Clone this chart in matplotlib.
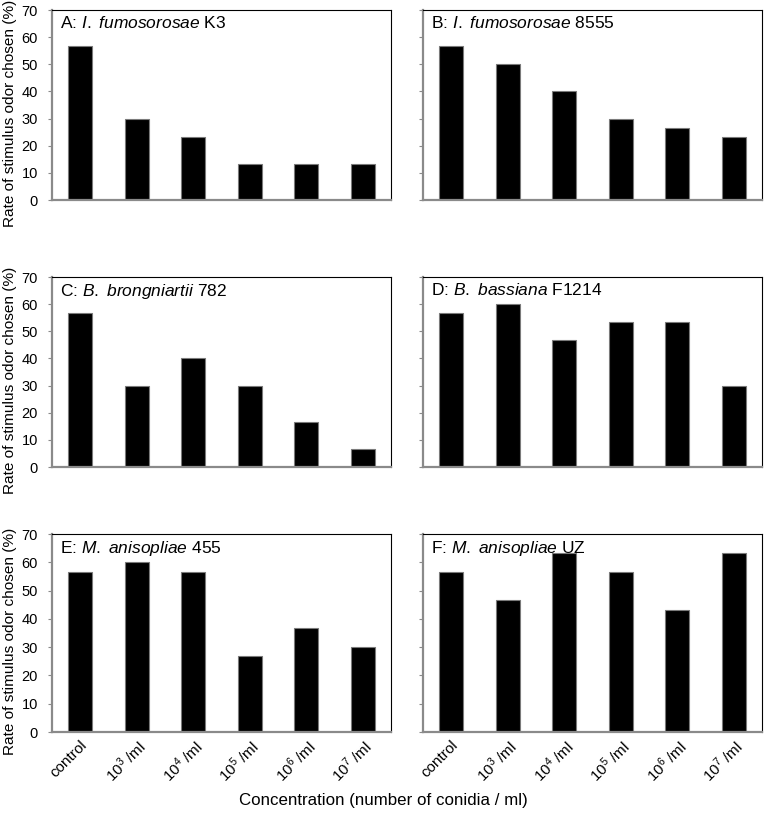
import matplotlib
matplotlib.use("Agg")
import matplotlib.pyplot as plt

plt.rcParams['font.family'] = ['Liberation Sans', 'DejaVu Sans']
plt.rcParams['mathtext.fontset'] = 'custom'
plt.rcParams['mathtext.rm'] = 'Liberation Sans'
plt.rcParams['mathtext.it'] = 'Liberation Sans:italic'

# concentrations (x categories)
categories = ["control", "10$^3$ /ml", "10$^4$ /ml", "10$^5$ /ml", "10$^6$ /ml", "10$^7$ /ml"]

# panel titles: (letter, italic species, strain)
titles = [
    ("A: ", "I. fumosorosae", " K3"),
    ("B: ", "I. fumosorosae", " 8555"),
    ("C: ", "B. brongniartii", " 782"),
    ("D: ", "B. bassiana", " F1214"),
    ("E: ", "M. anisopliae", " 455"),
    ("F: ", "M. anisopliae", " UZ"),
]

# rate of stimulus odor chosen (%)
vals_A = [56.7, 30.0, 23.3, 13.3, 13.3, 13.3]
vals_B = [56.7, 50.0, 40.0, 30.0, 26.7, 23.3]
vals_C = [56.7, 30.0, 40.0, 30.0, 16.7, 6.7]
vals_D = [56.7, 60.0, 46.7, 53.3, 53.3, 30.0]
vals_E = [56.7, 60.0, 56.7, 26.7, 36.7, 30.0]
vals_F = [56.7, 46.7, 63.3, 56.7, 43.3, 63.3]
all_vals = [vals_A, vals_B, vals_C, vals_D, vals_E, vals_F]

W, H = 766, 813
fig = plt.figure(figsize=(W / 100, H / 100), dpi=100)

# axes rectangles in pixels: left, top, right, bottom
rects = [
    (52, 10, 391, 200), (423, 10, 762, 200),
    (52, 277, 391, 467), (423, 277, 762, 467),
    (52, 534, 391, 732), (423, 534, 762, 732),
]

for i, (vals, t, r) in enumerate(zip(all_vals, titles, rects)):
    l, tp, rt, bt = r
    ax = fig.add_axes([l / W, 1 - bt / H, (rt - l) / W, (bt - tp) / H])
    x = range(len(vals))
    ax.bar(x, vals, width=0.42, color="black", edgecolor="#7a7a7a", linewidth=0.8)
    ax.set_xlim(-0.5, 5.5)
    ax.set_ylim(0, 70)
    ax.set_yticks(range(0, 71, 10))
    for s in ("top", "right"):
        ax.spines[s].set_color("black")
        ax.spines[s].set_linewidth(0.8)
    for s in ("left", "bottom"):
        ax.spines[s].set_color("#8a8a8a")
        ax.spines[s].set_linewidth(1.6)
    ax.tick_params(axis="y", direction="out", length=3, color="#8a8a8a",
                   labelsize=10.5, pad=7)
    ax.tick_params(axis="x", length=0, pad=4)
    ax.set_xticks(list(x))
    if i % 2 == 0:
        # y label, placed a bit below the axes centre as in the original
        cy = (tp + bt) / 2 + 8
        fig.text(10 / W, 1 - cy / H, "Rate of stimulus odor chosen (%)",
                 rotation=90, ha="center", va="center", fontsize=11.1)
    else:
        ax.set_yticklabels([])
    if i >= 4:
        ax.set_xticklabels(categories, rotation=45, ha="right",
                           rotation_mode="anchor", fontsize=11)
    else:
        ax.set_xticklabels([])
    ax.text(0.025, 0.975,
            t[0] + "$\\it{" + t[1].replace(" ", "\\ ") + "}$" + t[2],
            transform=ax.transAxes, ha="left", va="top", fontsize=12.5)

fig.text(0.5, 1 - 800 / H, "Concentration (number of conidia / ml)",
         ha="center", va="center", fontsize=12.2)

fig.savefig("out.png", dpi=100)
